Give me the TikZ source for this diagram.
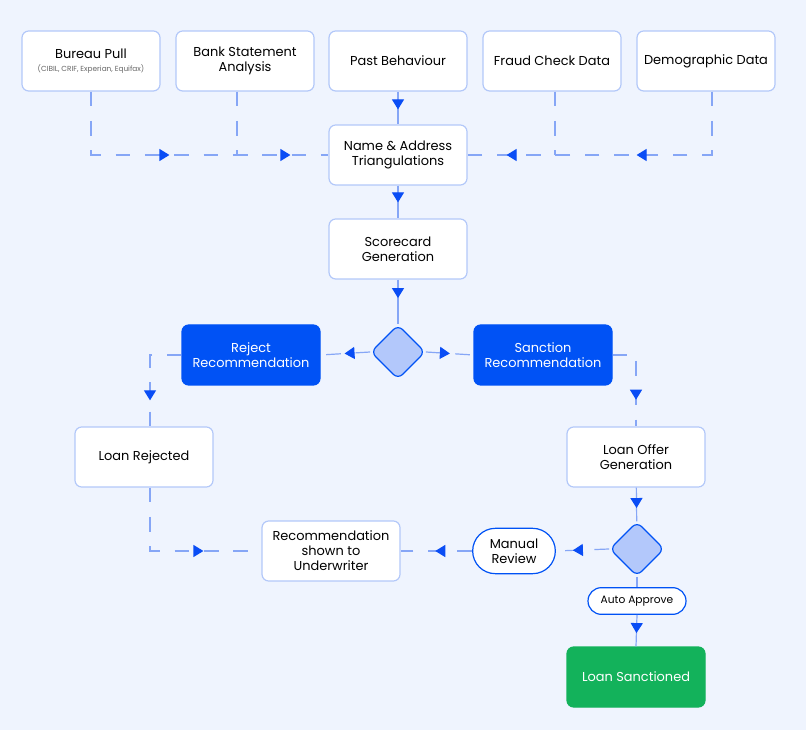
\documentclass[tikz,border=0pt]{standalone}
\usepackage{fontspec}
\setmainfont{Poppins}
\usetikzlibrary{shapes.geometric,arrows.meta,decorations.markings}
\definecolor{bgblue}{HTML}{EFF4FE}
\definecolor{edgeblue}{HTML}{B3C8F9}
\definecolor{lineblue}{HTML}{86A6F6}
\definecolor{tipblue}{HTML}{0A4DF5}
\definecolor{boxblue}{HTML}{0052F5}
\definecolor{diafill}{HTML}{B3C8FB}
\definecolor{okgreen}{HTML}{13B25B}
\begin{document}
\begin{tikzpicture}[x=0.75pt,y=-0.75pt,font=\fontsize{9.7}{11.2}\selectfont]
  \tikzstyle{box}=[draw=edgeblue,line width=0.9pt,fill=white,rounded corners=5pt,
    minimum width=103.5pt,minimum height=45pt,align=center,inner sep=2pt]
  \tikzstyle{bluebox}=[box,draw=boxblue,fill=boxblue,text=white]
  \tikzstyle{greenbox}=[box,draw=okgreen,fill=okgreen,text=white]
  \tikzstyle{pill}=[draw=boxblue,line width=0.9pt,fill=white,rounded corners=10pt,align=center]
  \tikzstyle{dec}=[diamond,draw=boxblue,line width=0.9pt,fill=diafill,rounded corners=5pt,
    minimum width=41pt,minimum height=41pt,inner sep=0pt]
  \tikzstyle{link}=[lineblue,line width=0.9pt]
  \tikzstyle{dashlink}=[link,dash pattern=on 11pt off 11pt]
  \tikzset{tip/.style={postaction={decorate,decoration={markings,
    mark=at position #1 with {\arrow[solid,draw=tipblue,fill=tipblue]{Triangle[length=7.5pt,width=9pt]}}}}}}

  \fill[bgblue] (0,0) rectangle (806,730);

  \node[box] (bureau) at (91,61)  {Bureau Pull\\[-1pt]{\fontsize{5.5}{7}\selectfont\color{black!60}(CIBIL, CRIF, Experian, Equifax)}};
  \node[box] (bank)   at (245,61) {Bank Statement\\Analysis};
  \node[box] (past)   at (398,61) {Past Behaviour};
  \node[box] (fraud)  at (552,61) {Fraud Check Data};
  \node[box] (demo)   at (706,61) {Demographic Data};

  \node[box] (name)  at (398,155) {Name \& Address\\Triangulations};
  \node[box] (score) at (398,249) {Scorecard\\Generation};
  \node[dec] (d1)    at (398,352) {};
  \node[bluebox] (reject)   at (251,355) {Reject\\Recommendation};
  \node[bluebox] (sanction) at (543,355) {Sanction\\Recommendation};
  \node[box] (rejected)  at (144,457) {Loan Rejected};
  \node[box] (offer)     at (636,457) {Loan Offer\\Generation};
  \node[dec] (d2)        at (637,549) {};
  \node[box] (rec)       at (331,551) {Recommendation\\shown to\\Underwriter};
  \node[pill,rounded corners=17pt,minimum width=62pt,minimum height=34pt] (manual) at (514,551) {Manual\\Review};
  \node[pill,minimum width=73.5pt,minimum height=20pt,font=\fontsize{8}{9}\selectfont] (auto) at (637,601) {Auto Approve};
  \node[greenbox] (sanctioned) at (636,677) {Loan Sanctioned};

  \coordinate (bj) at (237,155);
  \coordinate (fj) at (555,155);
  \coordinate (dj) at (712,155);
  \coordinate (rj) at (150,427);

  \draw[dashlink,tip=-119.25pt,tip=-28.5pt] (bureau.south) |- (name.west);
  \draw[dashlink] (bank.south -| bj) -- (bj);
  \draw[dashlink] (fraud.south -| fj) -- (fj);
  \draw[dashlink,tip=-126.75pt,tip=-29.25pt] (demo.south -| dj) |- (name.east);
  \draw[link,tip=-11.25pt] (past) -- (name);
  \draw[link,tip=-12pt] (name) -- (score);
  \draw[link,tip=-19.5pt] (score) -- (d1);
  \draw[dashlink,tip=-18pt] (d1.west) -- (reject.east);
  \draw[dashlink,tip=18pt] (d1.east) -- (sanction.west);
  \draw[dashlink,tip=-20pt] (reject.west) -| (rj);
  \draw[dashlink,tip=-20pt] (sanction.east) -| (offer.north);
  \draw[link,tip=-10pt] (offer) -- (d2);
  \draw[dashlink,tip=-12.75pt] (d2.west) -- (manual.east);
  \draw[dashlink,tip=-26pt] (manual.west) -- (rec.east);
  \draw[dashlink,tip=-43.5pt] (rejected.south -| rj) |- (rec.west);
  \draw[link] (d2.south) -- (auto.north);
  \draw[link,tip=-10pt] (auto.south) -- (sanctioned.north);
\end{tikzpicture}
\end{document}
